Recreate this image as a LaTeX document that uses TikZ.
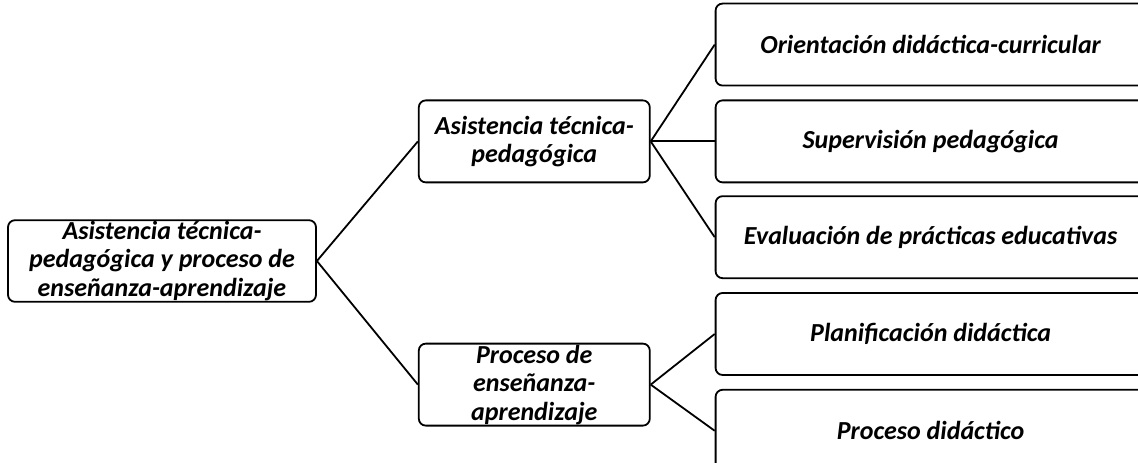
\documentclass[tikz,border=0pt]{standalone}
\usepackage{fontspec}
\setmainfont{Carlito}
\usepackage{tikz}
\usetikzlibrary{positioning}
\tikzset{base node/.style={rectangle, rounded corners=7pt, draw, line width=1.8pt, align=center, inner sep=1pt,
    font=\fontsize{26}{28.5}\selectfont\bfseries\itshape},
    root node/.style={base node, minimum width=308pt, minimum height=78pt},
    mid node/.style={base node, minimum width=231pt, minimum height=82pt},
    leaf node/.style={base node, minimum width=430pt, minimum height=82pt},}

\begin{document}
\begin{tikzpicture}[x=1pt,y=-1pt,line width=1.8pt]
        \useasboundingbox (0,0) rectangle (1138,463);
        \clip (0,0) rectangle (1138,463);
        % Nodes
        \node[root node] (root) at (162,261) {Asistencia técnica-\\pedagógica y proceso de\\enseñanza-aprendizaje};
        \node[mid node] [above right = 36pt and 101pt of root] (asist) {Asistencia técnica-\\pedagógica};
        \node[mid node] [below right = 40pt and 101pt of root] (proc) {Proceso de\\enseñanza-\\aprendizaje};
        \node[leaf node] [right = 64pt of asist] (super) {Supervisión pedagógica};
        \node[leaf node] [above = 13pt of super] (orient) {Orientación didáctica-curricular};
        \node[leaf node] [below = 12pt of super] (eval) {Evaluación de prácticas educativas};
        \node[leaf node] [below = 13pt of eval] (plan) {Planificación didáctica};
        \node[leaf node] [below = 13pt of plan] (didac) {Proceso didáctico};
        % Paths
        \path[draw]
        (root.east) edge (asist.west)
        (root.east) edge (proc.west)
        (asist.east) edge (orient.west)
        (asist.east) edge (super.west)
        (asist.east) edge (eval.west)
        (proc.east) edge (plan.west)
        (proc.east) edge (didac.west);
    \end{tikzpicture}
\end{document}
